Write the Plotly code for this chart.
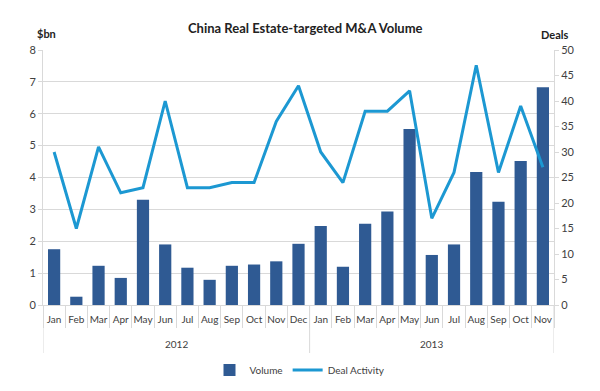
import plotly.graph_objects as go

years = ["2012"] * 12 + ["2013"] * 11
months = ["Jan", "Feb", "Mar", "Apr", "May", "Jun", "Jul", "Aug", "Sep", "Oct", "Nov", "Dec",
          "Jan", "Feb", "Mar", "Apr", "May", "Jun", "Jul", "Aug", "Sep", "Oct", "Nov"]
volume = [1.75, 0.26, 1.23, 0.85, 3.30, 1.90, 1.17, 0.79, 1.23, 1.27, 1.37, 1.92,
          2.48, 1.20, 2.55, 2.93, 5.52, 1.57, 1.90, 4.17, 3.24, 4.52, 6.83]
deals = [30, 15, 31, 22, 23, 40, 23, 23, 24, 24, 36, 43,
         30, 24, 38, 38, 42, 17, 26, 47, 26, 39, 27]

FONT = "Lato, 'Open Sans', sans-serif"
GRID = "#D9D9D9"
TXT = "#404040"

# page has an 8px body margin, so the figure is drawn 8px smaller
W, H = 592, 383
OFF = 8
L, R, T, B = 35, 46, 42, 86
pw = W - L - R
ph = H - T - B


def px(x):
    return (x - OFF - L) / pw


def py(y):
    return (H - B - (y - OFF)) / ph


idx = list(range(len(months)))

fig = go.Figure()
fig.add_trace(go.Bar(x=idx, y=volume, name="Volume",
                     marker=dict(color="#2F5A93", line=dict(width=0)), yaxis="y"))
fig.add_trace(go.Scatter(x=idx, y=deals, name="Deal Activity", mode="lines",
                         line=dict(color="#1C98D2", width=3), yaxis="y2"))

fig.update_layout(
    width=W, height=H,
    margin=dict(l=L, r=R, t=T, b=B, autoexpand=False),
    plot_bgcolor="white", paper_bgcolor="white",
    font=dict(family=FONT, size=11, color=TXT),
    bargap=0.45,
    showlegend=True,
    legend=dict(orientation="h", x=px(300), xanchor="center", y=py(370), yanchor="middle",
                font=dict(size=10, color=TXT), traceorder="normal"),
    xaxis=dict(range=[-0.5, len(months) - 0.5], tickvals=idx, ticktext=months,
               showline=True, linecolor=GRID, linewidth=1,
               ticks="outside", ticklen=5, tickcolor="rgba(0,0,0,0)",
               minor=dict(ticks="outside", tick0=-0.5, dtick=1, ticklen=22,
                          tickcolor=GRID, showgrid=False),
               tickangle=0, automargin=False, zeroline=False,
               tickfont=dict(size=10, color=TXT), showgrid=False),
    yaxis=dict(range=[0, 8], dtick=1, showgrid=True, gridcolor=GRID, gridwidth=1,
               showline=True, linecolor=GRID, zeroline=False, ticks="outside",
               ticklen=4, tickcolor=GRID, tickfont=dict(size=11, color=TXT),
               automargin=False),
    yaxis2=dict(range=[0, 50], dtick=5, overlaying="y", side="right", showgrid=False,
                showline=True, linecolor=GRID, zeroline=False, ticks="outside",
                ticklen=4, tickcolor=GRID, tickfont=dict(size=11, color=TXT),
                automargin=False),
)

# year group labels and dividers
groups = []
for i, yv in enumerate(years):
    if not groups or groups[-1][0] != yv:
        groups.append([yv, i, i])
    else:
        groups[-1][2] = i
bounds = sorted({g[1] - 0.5 for g in groups} | {g[2] + 0.5 for g in groups})
for b in bounds:
    fig.add_shape(type="line", xref="x", yref="paper", x0=b, x1=b, y0=0, y1=py(353),
                  line=dict(color=GRID, width=1))
for yv, a, z in groups:
    fig.add_annotation(text=yv, x=(a + z) / 2, xref="x", y=py(344), yref="paper",
                       showarrow=False, yanchor="middle", font=dict(size=10, color=TXT))

fig.add_annotation(text="<b>China Real Estate-targeted M&A Volume</b>", x=px(305), y=py(28),
                   xref="paper", yref="paper", showarrow=False, yanchor="middle",
                   font=dict(size=13, color="#222"))
fig.add_annotation(text="<b>$bn</b>", x=px(35), y=py(33), xref="paper", yref="paper",
                   showarrow=False, yanchor="middle",
                   font=dict(size=11, color="#222"))
fig.add_annotation(text="<b>Deals</b>", x=px(570), y=py(34), xref="paper", yref="paper",
                   showarrow=False, yanchor="middle",
                   font=dict(size=11, color="#222"))

fig.write_html("out.html")
